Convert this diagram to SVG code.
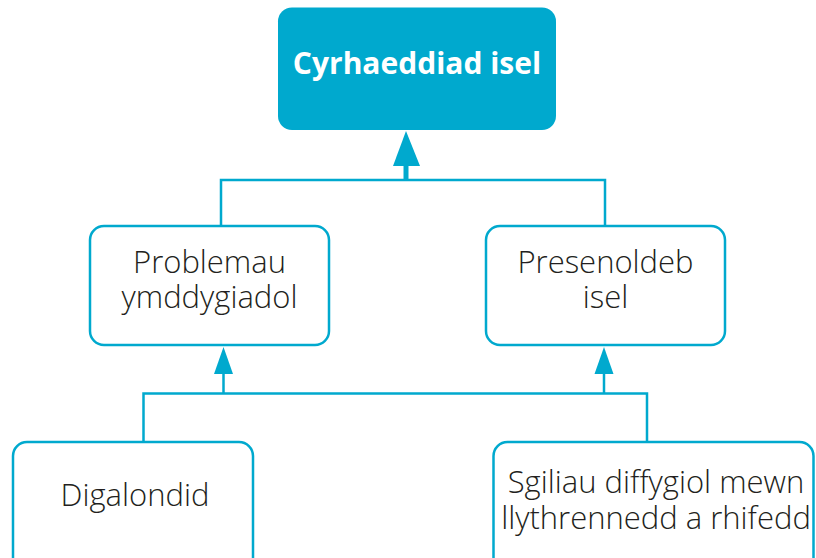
<svg xmlns="http://www.w3.org/2000/svg" width="816" height="558" viewBox="0 0 816 558">
<style>
.box{fill:#fff;stroke:#00a9ce;stroke-width:2.5}
.top{fill:#00a9ce}
.ln{fill:none;stroke:#00a9ce;stroke-width:2.5}
.ah{fill:#00a9ce}
text{font-family:"Open Sans","Noto Sans","Liberation Sans",sans-serif;font-size:31px;fill:#231f20;text-anchor:middle;font-weight:300}
.tt{fill:#fff;font-weight:700;font-size:30px}
</style>
<rect width="816" height="558" fill="#fff"/>
<g id="connectors">
<path class="ln" d="M221 226V180H605V226"/>
<path fill="none" stroke="#00a9ce" stroke-width="5" d="M406 181V162"/>
<polygon class="ah" points="406,131 393,166 420,166"/>
<path class="ln" d="M143.5 442V393.5H647V442"/>
<path class="ln" d="M223.5 394V370"/>
<polygon class="ah" points="223.5,347 214,374 233,374"/>
<path class="ln" d="M604 394V370"/>
<polygon class="ah" points="604,347 594.5,374 613.5,374"/>
</g>
<g id="n1">
<rect class="top" x="278" y="7.5" width="278" height="122.5" rx="14"/>
<text class="tt" x="417" y="74">Cyrhaeddiad isel</text>
</g>
<g id="n2">
<rect class="box" x="90" y="226" width="239" height="119" rx="14"/>
<text x="209.5" y="273">Problemau</text>
<text x="209.5" y="307.5">ymddygiadol</text>
</g>
<g id="n3">
<rect class="box" x="486" y="226" width="239" height="119" rx="14"/>
<text x="605.5" y="273">Presenoldeb</text>
<text x="605.5" y="307.5">isel</text>
</g>
<g id="n4">
<rect class="box" x="13" y="442" width="240" height="130" rx="14"/>
<text x="135" y="506">Digalondid</text>
</g>
<g id="n5">
<rect class="box" x="493.5" y="442" width="320" height="130" rx="14"/>
<text x="656" y="493">Sgiliau diffygiol mewn</text>
<text x="656" y="529">llythrennedd a rhifedd</text>
</g>
</svg>
